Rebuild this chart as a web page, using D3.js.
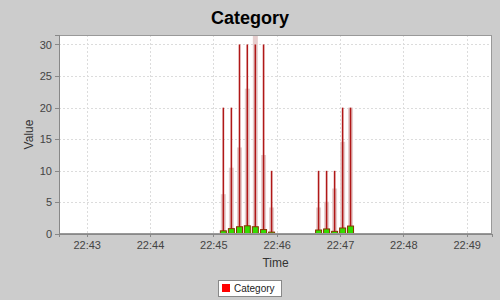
<!DOCTYPE html>
<html lang="en">
<head>
<meta charset="utf-8">
<script src="https://d3js.org/d3.v7.min.js"></script>
<style type="text/css">
body {
  margin: 0;
  background: #cccccc;
  font-family: "Liberation Sans", Arial, sans-serif;
}
.grid line {
  stroke: #dcdcdc;
  stroke-dasharray: 2,2;
  shape-rendering: crispEdges;
}
.axis text {
  font: 11px "Liberation Sans", Arial, sans-serif;
  fill: #444;
}
.axis line, .axis path {
  stroke: #888;
  shape-rendering: crispEdges;
}
</style>
<title>Category</title>
</head>
<body>
<script type="text/javascript">
// sample times (hh:mm:ss)
var times = ["22:45:09.5", "22:45:17.1", "22:45:24.8", "22:45:32.2", "22:45:39.8", "22:45:47.6", "22:45:55.2",
             "22:46:39.7", "22:46:47.3", "22:46:54.9", "22:47:02.5", "22:47:10.0"];
var peakValues = [20, 20, 30, 30, 30, 30, 10, 10, 10, 10, 20, 20];
var rangeValues = [6.3, 10.5, 13.7, 23.0, 31.5, 12.5, 4.2, 4.2, 5.1, 7.2, 14.6, 20];
var categoryValues = [0.5, 0.85, 1.15, 1.3, 1.15, 0.7, 0.3, 0.63, 0.8, 0.42, 0.95, 1.26];
var yTicks = [0, 5, 10, 15, 20, 25, 30];
var xStart = "22:42:33.8", xEnd = "22:49:24";

function parseT(s) {
  var p = s.split(":");
  var sec = parseFloat(p[2]);
  return new Date(2000, 0, 1, +p[0], +p[1], Math.floor(sec), Math.round((sec % 1) * 1000));
}

var W = 500, H = 300;
var margin = {top: 35, right: 8, bottom: 66, left: 59};
var width = W - margin.left - margin.right,
    height = H - margin.top - margin.bottom;

var x = d3.scaleTime().domain([parseT(xStart), parseT(xEnd)]).range([0, width]);
var y = d3.scaleLinear().domain([0, 31.5]).range([height, 0]);
var xTicks = d3.timeMinute.range(parseT("22:43:00"), parseT("22:49:30"));

var svg = d3.select("body").append("svg")
  .attr("width", W).attr("height", H);

svg.append("text")
  .attr("x", W / 2).attr("y", 23.5)
  .attr("text-anchor", "middle")
  .style("font-size", "18px").style("font-weight", "bold")
  .text("Category");

var g = svg.append("g")
  .attr("transform", "translate(" + margin.left + "," + margin.top + ")");

g.append("rect").attr("width", width).attr("height", height).attr("fill", "white");

var grid = g.append("g").attr("class", "grid");
grid.selectAll(".h").data(yTicks).enter().append("line")
  .attr("x1", 0).attr("x2", width)
  .attr("y1", function(d) { return Math.round(y(d)) + 0.5; })
  .attr("y2", function(d) { return Math.round(y(d)) + 0.5; });
grid.selectAll(".v").data(xTicks).enter().append("line")
  .attr("y1", 0).attr("y2", height)
  .attr("x1", function(d) { return Math.round(x(d)) + 0.5; })
  .attr("x2", function(d) { return Math.round(x(d)) + 0.5; });

var plot = g.append("g");

// pale range bars
plot.selectAll(".range").data(times).enter().append("rect")
  .attr("x", function(d) { return x(parseT(d)) - 2.5; })
  .attr("width", 5)
  .attr("y", function(d, i) { return y(rangeValues[i]); })
  .attr("height", function(d, i) { return height - y(rangeValues[i]); })
  .attr("fill", "#e6cece");

// zero line
plot.append("line")
  .attr("x1", x(parseT(xStart))).attr("x2", x(parseT(xEnd)))
  .attr("y1", y(0) - 0.5).attr("y2", y(0) - 0.5)
  .attr("stroke", "#c04040").attr("stroke-width", 1);

// peak lines
plot.selectAll(".peak").data(times).enter().append("line")
  .attr("x1", function(d) { return x(parseT(d)); })
  .attr("x2", function(d) { return x(parseT(d)); })
  .attr("y1", y(0))
  .attr("y2", function(d, i) { return y(peakValues[i]); })
  .attr("stroke", "#b01818").attr("stroke-width", 1.6);

// category bars
plot.selectAll(".cat").data(times).enter().append("rect")
  .attr("x", function(d) { return x(parseT(d)) - 3; })
  .attr("width", 6)
  .attr("y", function(d, i) { return y(categoryValues[i]); })
  .attr("height", function(d, i) { return height - y(categoryValues[i]); })
  .attr("fill", "#33dd00")
  .attr("stroke", "#8a3000").attr("stroke-width", 1);

g.append("rect").attr("x", 0.5).attr("y", 0.5).attr("width", width - 1).attr("height", height - 1)
  .attr("fill", "none").attr("stroke", "#999").style("shape-rendering", "crispEdges");

g.append("g").attr("class", "axis")
  .call(d3.axisLeft(y).tickValues(yTicks).tickSize(4).tickPadding(3));

g.append("g").attr("class", "axis")
  .attr("transform", "translate(0," + height + ")")
  .call(d3.axisBottom(x).tickValues(xTicks).tickSize(3).tickPadding(4)
    .tickFormat(d3.timeFormat("%H:%M")));

svg.append("text")
  .attr("transform", "translate(33," + (margin.top + height / 2) + ") rotate(-90)")
  .attr("text-anchor", "middle")
  .style("font-size", "12px").style("fill", "#333")
  .text("Value");

svg.append("text")
  .attr("x", margin.left + width / 2).attr("y", 266.5)
  .attr("text-anchor", "middle")
  .style("font-size", "12px").style("fill", "#333")
  .text("Time");

// legend
var legend = svg.append("g");
legend.append("rect").attr("x", 218.5).attr("y", 280.5).attr("width", 63).attr("height", 16)
  .attr("fill", "white").attr("stroke", "#888");
legend.append("rect").attr("x", 222).attr("y", 284).attr("width", 8).attr("height", 8)
  .attr("fill", "#ff0000");
legend.append("text").attr("x", 234).attr("y", 292.3)
  .style("font-size", "10px").style("fill", "#222")
  .text("Category");
</script>
</body>
</html>
